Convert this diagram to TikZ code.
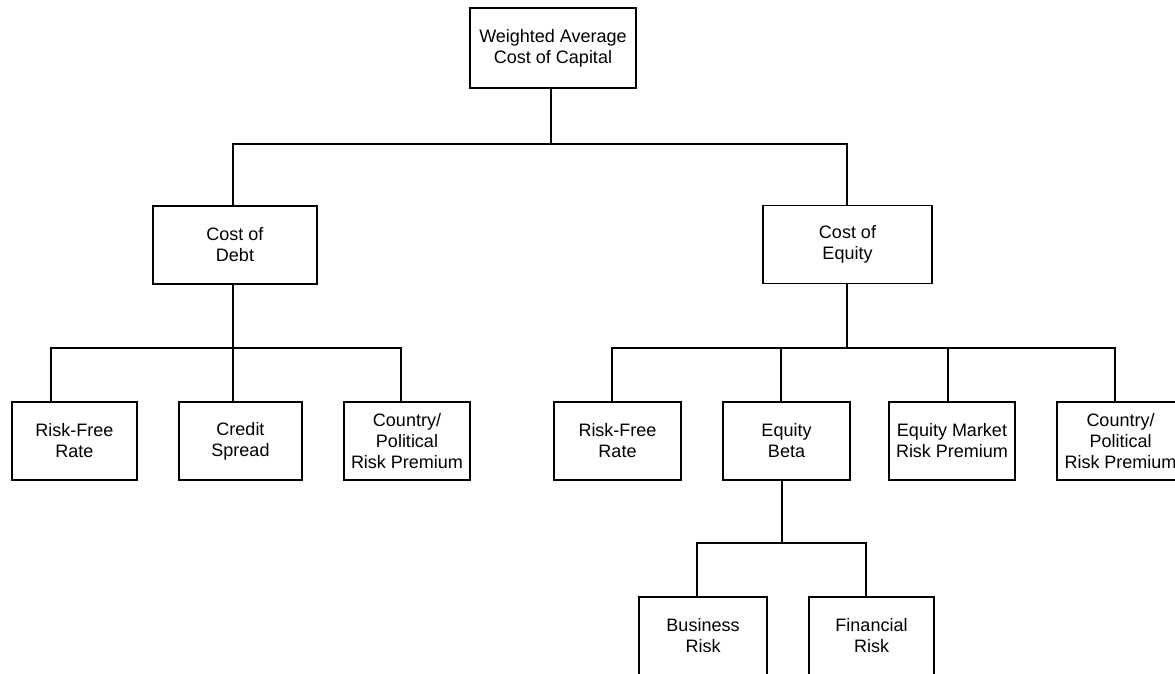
\documentclass[tikz,border=0pt]{standalone}
\usepackage{fontspec}
\setmainfont{Liberation Sans}
\begin{document}
\begin{tikzpicture}[x=1pt,y=-1pt,
  box/.style={draw, line width=1.4pt, inner sep=0pt, align=center,
    font=\fontsize{18}{21}\selectfont, minimum height=78pt},
  link/.style={line width=1.2pt}]
\useasboundingbox (0,0) rectangle (1175,673);
\clip (0,0) rectangle (1175,673);
\fill[white] (0,0) rectangle (1175,673);

% nodes
\node[box, minimum width=166pt, minimum height=80pt] (wacc) at (553,48) {Weighted Average\\Cost of Capital};
\node[box, minimum width=164pt] (debt) at (235,245) {Cost of\\Debt};
\node[box, minimum width=169pt] (equity) at (847.5,244.5) {Cost of\\Equity};
\node[box, minimum width=125pt] (rf1) at (74.5,441) {Risk-Free\\Rate};
\node[box, minimum width=123pt] (credit) at (240.5,441) {Credit\\Spread};
\node[box, minimum width=126pt] (cpr1) at (407,441) {Country/\\Political\\Risk Premium};
\node[box, minimum width=127pt] (rf2) at (617.5,441) {Risk-Free\\Rate};
\node[box, minimum width=127pt] (beta) at (786.5,441) {Equity\\Beta};
\node[box, minimum width=126pt] (emrp) at (952,441) {Equity Market\\Risk Premium};
\node[box, minimum width=127pt] (cpr2) at (1120.5,441) {Country/\\Political\\Risk Premium};
\node[box, minimum width=128pt] (bus) at (703,636) {Business\\Risk};
\node[box, minimum width=125pt] (fin) at (871.5,636) {Financial\\Risk};

% junction points
\coordinate (t0) at (551,144);
\coordinate (t1) at (233,144);
\coordinate (t2) at (847,144);
\coordinate (d1) at (51,348);
\coordinate (d2) at (233,348);
\coordinate (d3) at (401,348);
\coordinate (e1) at (612,348);
\coordinate (e2) at (781,348);
\coordinate (e0) at (847,348);
\coordinate (e3) at (948,348);
\coordinate (e4) at (1115,348);
\coordinate (b0) at (782,543);
\coordinate (b1) at (697,543);
\coordinate (b2) at (866,543);

% top level
\draw[link] (wacc.south -| t0) -- (t0);
\draw[link] (debt.north -| t1) -- (t1) -- (t2) -- (equity.north -| t2);

% debt branch
\draw[link] (debt.south -| d2) -- (d2);
\draw[link] (rf1.north -| d1) -- (d1) -- (d3) -- (cpr1.north -| d3);
\draw[link] (d2) -- (credit.north -| d2);

% equity branch
\draw[link] (equity.south -| e0) -- (e0);
\draw[link] (rf2.north -| e1) -- (e1) -- (e4) -- (cpr2.north -| e4);
\draw[link] (e2) -- (beta.north -| e2);
\draw[link] (e3) -- (emrp.north -| e3);

% beta branch
\draw[link] (beta.south -| b0) -- (b0);
\draw[link] (bus.north -| b1) -- (b1) -- (b2) -- (fin.north -| b2);
\end{tikzpicture}
\end{document}
